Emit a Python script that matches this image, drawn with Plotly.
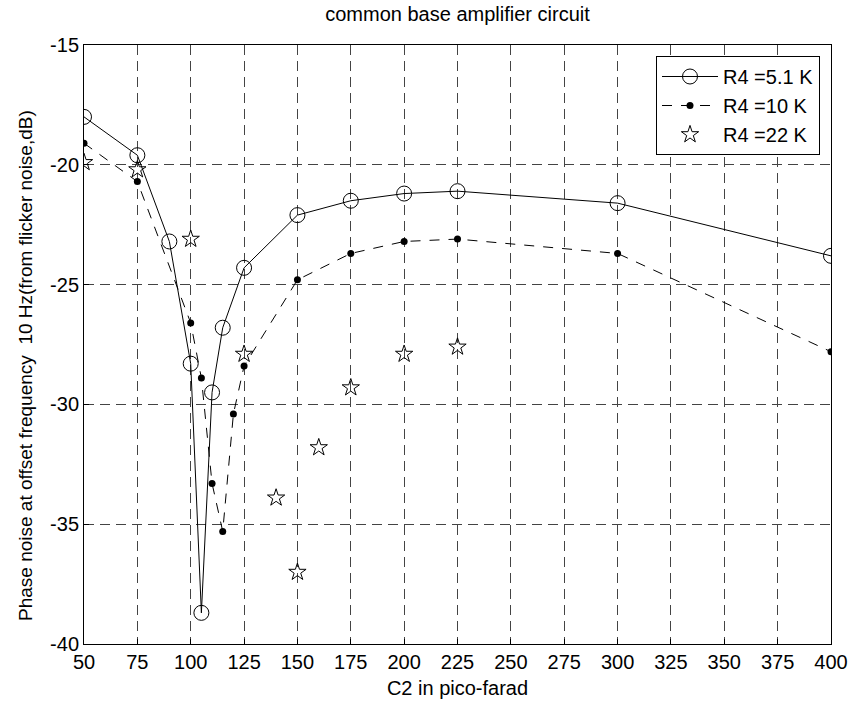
import plotly.graph_objects as go

# R4 = 5.1 K
x1 = [50, 75, 90, 100, 105, 110, 115, 125, 150, 175, 200, 225, 300, 400]
y1 = [-18.0, -19.6, -23.2, -28.3, -38.7, -29.5, -26.8, -24.3, -22.1, -21.5, -21.2, -21.1, -21.6, -23.8]
# R4 = 10 K
x2 = [50, 75, 100, 105, 110, 115, 120, 125, 150, 175, 200, 225, 300, 400]
y2 = [-19.1, -20.7, -26.6, -28.9, -33.3, -35.3, -30.4, -28.4, -24.8, -23.7, -23.2, -23.1, -23.7, -27.8]
# R4 = 22 K
x3 = [50, 75, 100, 125, 140, 150, 160, 175, 200, 225]
y3 = [-19.9, -20.2, -23.1, -27.9, -33.9, -37.0, -31.8, -29.3, -27.9, -27.6]

names = ["R4 =5.1 K", "R4 =10 K", "R4 =22 K"]
xticks = list(range(50, 401, 25))
yticks = [-40, -35, -30, -25, -20, -15]

font = "Liberation Sans, Arial, sans-serif"
FS = 20

fig = go.Figure()
fig.add_trace(go.Scatter(x=x1, y=y1, name=names[0], mode="lines+markers",
                         line=dict(color="black", width=1),
                         marker=dict(symbol="circle-open", size=15, color="black", line=dict(width=1))))
fig.add_trace(go.Scatter(x=x2, y=y2, name=names[1], mode="lines+markers",
                         line=dict(color="black", width=1, dash="10px,9px"),
                         marker=dict(symbol="circle", size=7, color="black")))
fig.add_trace(go.Scatter(x=x3, y=y3, name=names[2], mode="markers",
                         marker=dict(symbol="star-open", size=13, color="black", line=dict(width=1))))

axis_common = dict(showline=True, linecolor="black", linewidth=1, mirror=True,
                   showgrid=True, gridcolor="#444444", griddash="10px,6px", gridwidth=1,
                   ticks="inside", ticklen=5, tickcolor="black", zeroline=False,
                   automargin=False,
                   tickfont=dict(family=font, size=FS, color="black"))

fig.update_layout(
    width=853, height=704,
    margin=dict(l=84, r=22, t=45, b=60),
    paper_bgcolor="white", plot_bgcolor="white",
    title=dict(text="common base amplifier circuit", x=(84 + 831) / 2 / 853, xref="container", xanchor="center",
               y=1 - 14 / 704, yref="container", yanchor="middle",
               font=dict(family=font, size=FS, color="black")),
    xaxis=dict(range=[50, 400], tickvals=xticks, ticktext=[str(v) for v in xticks],
               title=dict(text="C2 in pico-farad", font=dict(family=font, size=FS, color="black"), standoff=8),
               **axis_common),
    yaxis=dict(range=[-40, -15], tickvals=yticks, ticktext=[str(v) for v in yticks],
               **axis_common),
    legend=dict(x=(820 - 84) / 747, y=1 - (56 - 45) / 599, xanchor="right", yanchor="top",
                bgcolor="white", bordercolor="black", borderwidth=1,
                font=dict(family=font, size=FS, color="black"),
                itemwidth=56, tracegroupgap=0),
    showlegend=True,
)

fig.add_annotation(text="Phase noise at offset frequency  10 Hz(from flicker noise,dB)",
                   xref="paper", yref="paper", x=(25 - 84) / 747, y=1 - (366 - 45) / 599,
                   xanchor="center", yanchor="middle", textangle=-90, showarrow=False,
                   font=dict(family=font, size=19, color="black"))

fig.write_html("out.html")
